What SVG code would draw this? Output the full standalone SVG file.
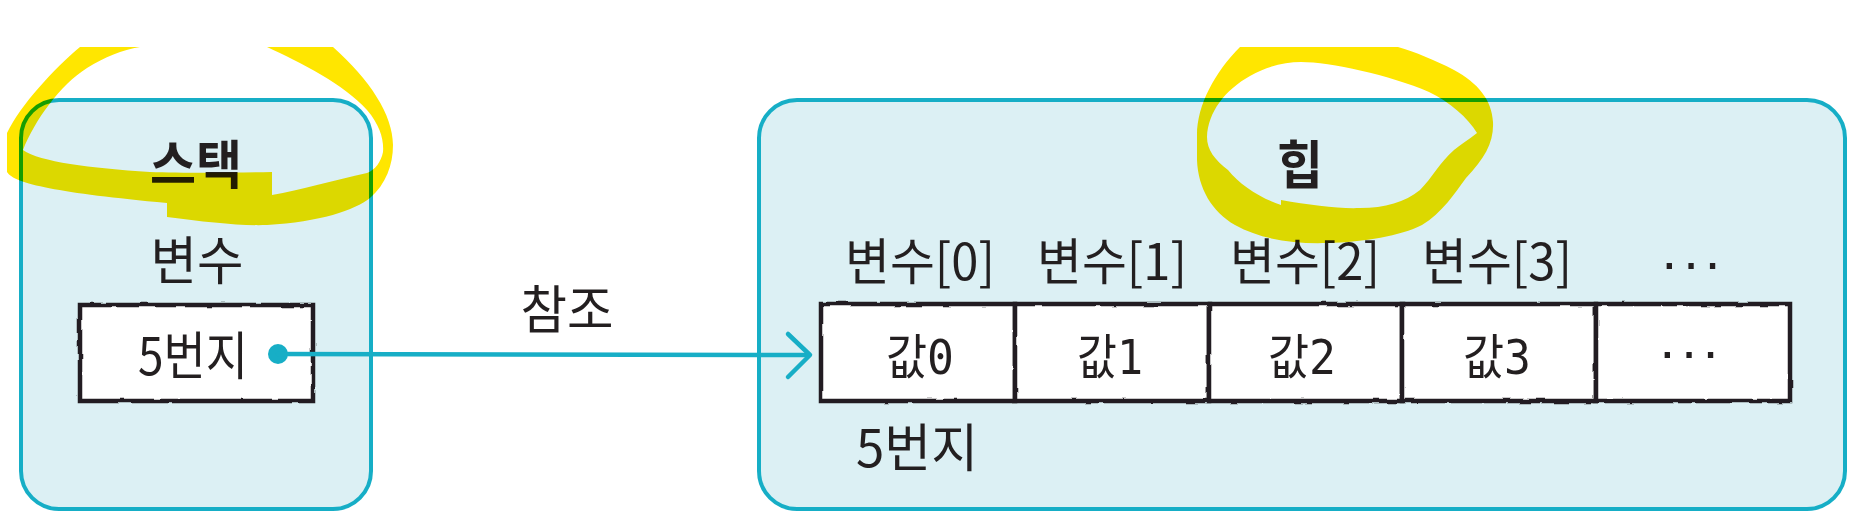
<svg xmlns="http://www.w3.org/2000/svg" width="1860" height="529" viewBox="0 0 1860 529">
<defs>
<style>
.area{fill:#dcf0f4;stroke:#17aec6;stroke-width:4}
.cell{fill:#ffffff;stroke:#231f20;stroke-width:4.5}
.t{font-family:"Noto Sans CJK KR","Noto Sans",sans-serif;fill:#231f20;font-size:52px;text-anchor:middle}
.s{font-size:48px}
.m{font-size:50px}
.b{font-weight:bold}
.mono{font-family:"DejaVu Sans Mono","Noto Sans CJK KR",monospace}
.dots{font-family:"Liberation Sans",sans-serif;fill:#231f20;font-size:56px;letter-spacing:3px}
.hl{fill:#ffe600;mix-blend-mode:multiply}
.conn{fill:none;stroke:#17aec6;stroke-width:4.5;stroke-linecap:round;stroke-linejoin:round}
</style>
<filter id="rough" x="-5%" y="-20%" width="110%" height="140%">
<feTurbulence type="fractalNoise" baseFrequency="0.06" numOctaves="2" seed="3" result="n"/>
<feDisplacementMap in="SourceGraphic" in2="n" scale="3" xChannelSelector="R" yChannelSelector="G"/>
</filter>
<filter id="soft" x="-5%" y="-5%" width="110%" height="110%">
<feTurbulence type="fractalNoise" baseFrequency="0.03" numOctaves="1" seed="7" result="n"/>
<feDisplacementMap in="SourceGraphic" in2="n" scale="1.5" xChannelSelector="R" yChannelSelector="G"/>
</filter>
</defs>
<rect width="1860" height="529" fill="#ffffff"/>

<g id="stack">
<rect class="area" x="21" y="100" width="350" height="409" rx="38" filter="url(#soft)"/>
<text class="t b" x="196" y="184" textLength="92" lengthAdjust="spacingAndGlyphs">스택</text>
<text class="t" x="197" y="280" textLength="93" lengthAdjust="spacingAndGlyphs">변수</text>
</g>

<g id="heap">
<rect class="area" x="759" y="100" width="1086" height="409" rx="38" filter="url(#soft)"/>
<text class="t b" x="1300" y="184" textLength="46" lengthAdjust="spacingAndGlyphs">힙</text>
<text class="t m" x="920" y="280" textLength="150" lengthAdjust="spacingAndGlyphs">변수[0]</text>
<text class="t m" x="1112" y="280" textLength="150" lengthAdjust="spacingAndGlyphs">변수[1]</text>
<text class="t m" x="1305" y="280" textLength="150" lengthAdjust="spacingAndGlyphs">변수[2]</text>
<text class="t m" x="1497" y="280" textLength="150" lengthAdjust="spacingAndGlyphs">변수[3]</text>
<text class="dots" x="1660" y="281">···</text>
<text class="t" x="917" y="467" textLength="122" lengthAdjust="spacingAndGlyphs">5번지</text>
</g>

<g id="stack-var">
<rect class="cell" x="80" y="305" width="233" height="96" filter="url(#rough)"/>
<text class="t" x="193" y="375" textLength="110" lengthAdjust="spacingAndGlyphs">5번지</text>
</g>

<g id="cell-0">
<rect class="cell" x="821" y="304" width="194" height="97" filter="url(#rough)"/>
<text class="t s" x="920" y="374" textLength="68" lengthAdjust="spacingAndGlyphs">값<tspan class="mono">0</tspan></text>
</g>
<g id="cell-1">
<rect class="cell" x="1015" y="304" width="194" height="97" filter="url(#rough)"/>
<text class="t s" x="1110" y="374" textLength="66" lengthAdjust="spacingAndGlyphs">값<tspan class="mono">1</tspan></text>
</g>
<g id="cell-2">
<rect class="cell" x="1209" y="304" width="193" height="97" filter="url(#rough)"/>
<text class="t s" x="1302" y="374" textLength="68" lengthAdjust="spacingAndGlyphs">값<tspan class="mono">2</tspan></text>
</g>
<g id="cell-3">
<rect class="cell" x="1402" y="304" width="194" height="97" filter="url(#rough)"/>
<text class="t s" x="1497" y="374" textLength="68" lengthAdjust="spacingAndGlyphs">값<tspan class="mono">3</tspan></text>
</g>
<g id="cell-more">
<rect class="cell" x="1596" y="304" width="194" height="97" filter="url(#rough)"/>
<text class="dots" x="1658" y="370">···</text>
</g>

<g id="connectors">
<circle cx="278" cy="354" r="10" fill="#17aec6"/>
<path class="conn" d="M 278 354 C 400 355, 600 353, 809 355"/>
<path class="conn" d="M 788 334 L 810 355 L 788 377"/>
<text class="t" x="567" y="329" textLength="93" lengthAdjust="spacingAndGlyphs">참조</text>
</g>

<g id="highlights">
<path class="hl" d="M 80 47 C 55 68, 20 105, 7 133 L 7 172 C 14 184, 60 193, 167 203 L 167 217 C 205 222, 240 226, 267 225 C 320 222, 355 210, 370 198 C 386 184, 393 165, 393 145 C 393 115, 370 80, 333 47 L 267 47 C 300 62, 345 85, 367 110 C 380 125, 384 140, 383 152 C 381 162, 375 170, 367 173 C 335 180, 300 190, 272 195 L 272 172 C 230 173, 180 173, 150 172 C 90 168, 40 162, 23 150 C 35 120, 60 85, 87 68 C 105 57, 122 50, 140 47 Z"/>
<path class="hl" fill-rule="evenodd" d="M 1240 47 C 1215 72, 1197 105, 1197 135 L 1197 160 C 1198 188, 1212 212, 1235 225 C 1262 240, 1295 244, 1327 243 C 1365 242, 1400 236, 1422 225 C 1442 213, 1455 193, 1466 178 C 1485 158, 1494 142, 1493 122 C 1492 100, 1478 83, 1454 70 C 1435 60, 1415 52, 1398 47 Z M 1207 137 C 1208 112, 1225 90, 1250 76 C 1268 66, 1285 62, 1301 62 C 1330 62, 1390 75, 1429 92 C 1450 102, 1468 118, 1477 133 C 1468 140, 1460 145, 1454 150 C 1440 162, 1432 178, 1420 190 C 1405 202, 1385 208, 1360 208 C 1340 209, 1310 205, 1281 200 L 1281 205 C 1260 198, 1240 185, 1228 170 C 1215 160, 1207 150, 1207 137 Z"/>
</g>
</svg>
